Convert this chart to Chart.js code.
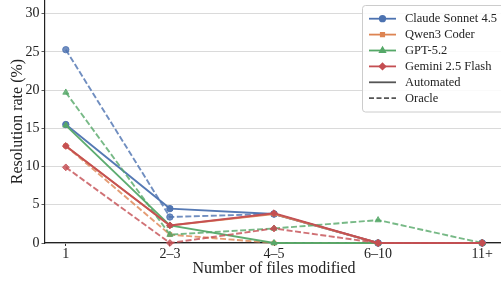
<!DOCTYPE html>
<html><head><meta charset="utf-8">
<script src="https://cdn.jsdelivr.net/npm/chart.js@4/dist/chart.umd.min.js"></script>
<style>html,body{margin:0;padding:0;background:#fff;overflow:hidden}#wrap{width:501px;height:281px;overflow:hidden;position:relative}#c{position:absolute;left:0;top:0}</style>
</head><body><div id="wrap"><canvas id="c" width="508" height="285"></canvas></div>
<script>
const categories = ['1', '2–3', '4–5', '6–10', '11+'];
const yTicks = [0, 5, 10, 15, 20, 25, 30];
const models = ['Claude Sonnet 4.5', 'Qwen3 Coder', 'GPT-5.2', 'Gemini 2.5 Flash'];
const claudeAutomated = [15.5, 4.5, 3.8, 0, 0];
const claudeOracle    = [25.3, 3.4, 3.8, 0, 0];
const qwenAutomated   = [12.7, 2.3, 3.8, 0, 0];
const qwenOracle      = [12.7, 1.1, 0, 0, 0];
const gptAutomated    = [15.4, 2.3, 0, 0, 0];
const gptOracle       = [19.7, 1.1, 1.9, 3.0, 0];
const geminiAutomated = [12.7, 2.3, 3.9, 0, 0];
const geminiOracle    = [9.9, 0, 1.9, 0, 0];

const colors = {blue:'#4C72B0', orange:'#DD8452', green:'#55A868', red:'#C44E52'};
const FONT = "'Liberation Serif', 'DejaVu Serif', serif";

function rgba(hex, a){const n=parseInt(hex.slice(1),16);return `rgba(${n>>16},${(n>>8)&255},${n&255},${a})`;}
function mRadius(m){ return m==='triangle'?3.5:(m==='rect'?2.8:(m==='rectRot'?3.4:3.2)); }
let orderCounter = 100;
function ds(label, vals, col, marker, dashed){
  const c = rgba(col, dashed ? 0.8 : 0.95);
  return {
    label, data: vals.map((v,i)=>({x:i,y:v})), order: orderCounter--,
    borderColor:c, backgroundColor:c, pointBackgroundColor:c, pointBorderColor:c,
    borderWidth:1.9, borderDash: dashed ? [6,2.5] : [],
    pointStyle:marker, pointRadius: mRadius(marker),
    pointBorderWidth:1, tension:0, fill:false, clip:false
  };
}
const datasets = [
  ds('Claude Sonnet 4.5 Automated', claudeAutomated, colors.blue, 'circle', false),
  ds('Claude Sonnet 4.5 Oracle', claudeOracle, colors.blue, 'circle', true),
  ds('Qwen3 Coder Automated', qwenAutomated, colors.orange, 'rect', false),
  ds('Qwen3 Coder Oracle', qwenOracle, colors.orange, 'rect', true),
  ds('GPT-5.2 Automated', gptAutomated, colors.green, 'triangle', false),
  ds('GPT-5.2 Oracle', gptOracle, colors.green, 'triangle', true),
  ds('Gemini 2.5 Flash Automated', geminiAutomated, colors.red, 'rectRot', false),
  ds('Gemini 2.5 Flash Oracle', geminiOracle, colors.red, 'rectRot', true),
];

const legendItems = [
  {text:models[0], color:colors.blue, marker:'circle', dash:[]},
  {text:models[1], color:colors.orange, marker:'rect', dash:[]},
  {text:models[2], color:colors.green, marker:'triangle', dash:[]},
  {text:models[3], color:colors.red, marker:'rectRot', dash:[]},
  {text:'Automated', color:'#555', marker:null, dash:[]},
  {text:'Oracle', color:'#555', marker:null, dash:[5,2.5]},
];

const legendPlugin = {
  id:'customLegend',
  afterLayout(chart){
    chart.canvas.style.top = (-chart.chartArea.top) + 'px';
  },
  afterDraw(chart){
    const ctx = chart.ctx;
    const off = chart.chartArea.top;
    const x0 = 362.5, y0 = 5.5 + off, w = 145, h = 106.5;
    ctx.save();
    ctx.fillStyle = 'rgba(255,255,255,0.85)';
    ctx.strokeStyle = '#cccccc';
    ctx.lineWidth = 1;
    ctx.beginPath();
    if (ctx.roundRect) ctx.roundRect(x0, y0, w, h, 3); else ctx.rect(x0,y0,w,h);
    ctx.fill(); ctx.stroke();
    ctx.font = "12.5px " + FONT;
    ctx.textBaseline = 'middle';
    legendItems.forEach((it, i) => {
      const y = 18.7 + i*15.9 + off;
      ctx.strokeStyle = it.color; ctx.lineWidth = 1.8;
      ctx.setLineDash(it.dash);
      ctx.beginPath(); ctx.moveTo(369, y); ctx.lineTo(396, y); ctx.stroke();
      ctx.setLineDash([]);
      if (it.marker) {
        ctx.fillStyle = it.color;
        Chart.helpers.drawPoint(ctx, {pointStyle: it.marker, radius: mRadius(it.marker)*0.85, borderWidth:1}, 382.5, y);
      }
      ctx.fillStyle = '#222';
      ctx.fillText(it.text, 405, y + 0.5);
    });
    ctx.restore();
  }
};

new Chart(document.getElementById('c'), {
  type:'line',
  data:{datasets},
  options:{
    responsive:false, animation:false, devicePixelRatio:1,
    layout:{padding:0},
    plugins:{legend:{display:false}, tooltip:{enabled:false}},
    scales:{
      x:{
        type:'linear', min:-0.2, max:4.2,
        afterBuildTicks(s){ s.ticks = categories.map((_,i)=>({value:i})); },
        afterFit(s){ s.height = 37; s.paddingLeft = 0; s.paddingRight = 0; },
        ticks:{ callback:(v)=>categories[v] ?? '', color:'#222', font:{family:FONT, size:14}, padding:0, maxRotation:0, autoSkip:false },
        grid:{ drawOnChartArea:false, drawTicks:true, tickLength:3, tickColor:'#333' },
        border:{ color:'#222', width:1.2 },
        title:{ display:true, text:'Number of files modified', color:'#222', font:{family:FONT, size:16}, padding:{top:0,bottom:2} }
      },
      y:{
        min:0, max:31.8,
        afterBuildTicks(s){ s.ticks = yTicks.map(v=>({value:v})); },
        afterFit(s){ s.width = 45; s.paddingTop = 0; s.paddingBottom = 0; },
        ticks:{ color:'#222', font:{family:FONT, size:14}, padding:2 },
        grid:{ color:'#d0d0d0', lineWidth:0.8, borderDash:[1.5,1.5], drawTicks:true, tickLength:3.5, tickColor:'#333', tickBorderDash:[] },
        border:{ color:'#222', width:1.2 },
        title:{ display:true, text:'Resolution rate (%)', color:'#222', font:{family:FONT, size:16}, padding:{top:8,bottom:0} }
      }
    }
  },
  plugins:[legendPlugin]
});
</script></body></html>
